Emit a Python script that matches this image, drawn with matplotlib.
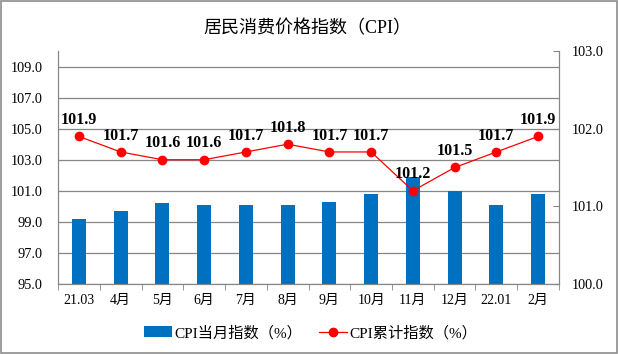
import numpy as np
import matplotlib.pyplot as plt
from matplotlib.patches import Rectangle
from matplotlib.lines import Line2D
from matplotlib.patches import Patch

plt.rcParams['font.family'] = ['Liberation Serif', 'Noto Sans CJK SC', 'DejaVu Sans']

months = ['21.03', '4月', '5月', '6月', '7月', '8月', '9月', '10月', '11月', '12月', '22.01', '2月']
cpi_month = [99.2, 99.7, 100.2, 100.1, 100.1, 100.1, 100.3, 100.8, 101.9, 101.0, 100.1, 100.8]
cpi_cum = [101.9, 101.7, 101.6, 101.6, 101.7, 101.8, 101.7, 101.7, 101.2, 101.5, 101.7, 101.9]
left_ticks = [95, 97, 99, 101, 103, 105, 107, 109]
right_ticks = [100, 101, 102, 103]

bar_color = '#0070C0'
line_color = '#FF0000'
grid_color = '#868686'

fig = plt.figure(figsize=(6.18, 3.54), dpi=100)
fig.patches.append(Rectangle((0.001, 0.002), 0.997, 0.995, transform=fig.transFigure,
                             fill=False, edgecolor='#8c8c8c', linewidth=1.2))

ax = fig.add_axes([0.0939, 0.1977, 0.8106, 0.6583])
x = np.arange(len(months))
ax.bar(x, cpi_month, width=0.335, color=bar_color, zorder=2, bottom=0)
ax.set_ylim(95, 110)
ax.set_xlim(-0.5, len(months) - 0.5)
ax.set_yticks(left_ticks)
ax.set_yticklabels([f'{v:.1f}' for v in left_ticks], fontsize=10.3)
ax.set_xticks(x)
ax.set_xticklabels(months, fontsize=10)
ax.set_xticks(np.arange(-0.5, len(months)), minor=True)
ax.tick_params(axis='x', which='major', length=0, pad=7)
ax.tick_params(axis='x', which='minor', length=4, color=grid_color, direction='out')
ax.tick_params(axis='y', length=0, pad=11)
ax.yaxis.grid(True, color=grid_color, linewidth=0.9, zorder=0)
ax.set_axisbelow(True)
for s in ['left', 'bottom', 'right']:
    ax.spines[s].set_color(grid_color)
ax.spines['top'].set_visible(False)

ax2 = ax.twinx()
ax2.plot(x, cpi_cum, color=line_color, linewidth=0.9, marker='o', markersize=6, zorder=3)
ax2.set_ylim(100, 103)
ax2.set_yticks(right_ticks)
ax2.set_yticklabels([f'{v:.1f}' for v in right_ticks], fontsize=10.3)
ax2.tick_params(axis='y', direction='in', length=4, color=grid_color, pad=9)
for s in ['left', 'bottom', 'right']:
    ax2.spines[s].set_color(grid_color)
ax2.spines['top'].set_visible(False)
for xi, v in zip(x, cpi_cum):
    ax2.annotate(f'{v:.1f}', (xi, v), xytext=(0, 6), textcoords='offset points',
                 ha='center', va='bottom', fontsize=11.5, fontweight='bold')

fig.text(0.497, 0.92, '居民消费价格指数（CPI）', ha='center', va='center', fontsize=13)

handles = [Patch(facecolor=bar_color, edgecolor='none'),
           Line2D([0], [0], color=line_color, linewidth=0.9, marker='o', markersize=6)]
fig.legend(handles, ['CPI当月指数（%）', 'CPI累计指数（%）'], loc='center',
           bbox_to_anchor=(0.503, 0.06), ncol=2, frameon=False, fontsize=11,
           handlelength=1.8, handletextpad=0.2, columnspacing=1.1)

fig.savefig('out.png', dpi=100)
